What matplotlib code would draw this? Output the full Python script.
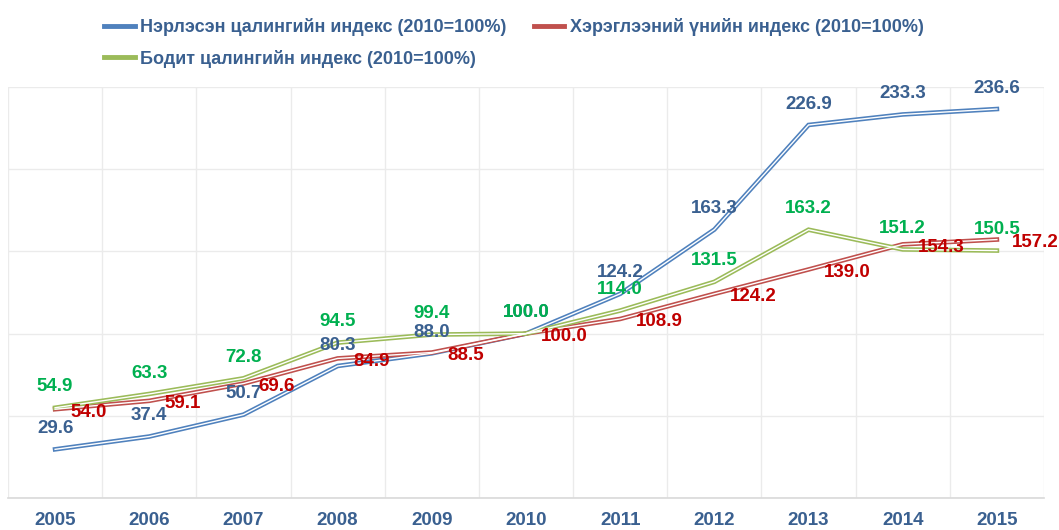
# -*- coding: utf-8 -*-
"""
Цалингийн индексүүд, 2005-2015 (2010=100%)
"""

import numpy as np
import matplotlib.pyplot as plt

plt.rcParams['font.family'] = ['Liberation Sans', 'DejaVu Sans']
plt.rcParams['font.weight'] = 'bold'

# Өгөгдөл
years = ['2005', '2006', '2007', '2008', '2009', '2010',
         '2011', '2012', '2013', '2014', '2015']
nominal = [29.6, 37.4, 50.7, 80.3, 88.0, 100.0, 124.2, 163.3, 226.9, 233.3, 236.6]
cpi = [54.0, 59.1, 69.6, 84.9, 88.5, 100.0, 108.9, 124.2, 139.0, 154.3, 157.2]
real = [54.9, 63.3, 72.8, 94.5, 99.4, 100.0, 114.0, 131.5, 163.2, 151.2, 150.5]

names = ['Нэрлэсэн цалингийн индекс (2010=100%)',
         'Хэрэглээний үнийн индекс (2010=100%)',
         'Бодит цалингийн индекс (2010=100%)']

c_blue, c_red, c_green = '#4F81BD', '#C0504D', '#9BBB59'
t_blue, t_red, t_green = '#3A6090', '#C00000', '#00B050'

x = np.arange(len(years))

fig = plt.figure(figsize=(10.59, 5.30), dpi=100)
ax = fig.add_axes([8/1059, 1 - 498/530, (1044 - 8)/1059, (498 - 87)/530])

# Хоёр давхар шугам: өнгөт зузаан + цагаан нимгэн
def double_line(vals, col):
    ax.plot(x, vals, color=col, lw=3.3, zorder=3, solid_joinstyle='miter')
    ax.plot(x, vals, color='white', lw=1.0, zorder=4, solid_joinstyle='miter')

double_line(nominal, c_blue)
double_line(cpi, c_red)
double_line(real, c_green)

# Утгын шошго
for i in range(len(x)):
    ax.annotate(f'{nominal[i]:.1f}', (x[i], nominal[i]), xytext=(0, 15),
                textcoords='offset points', ha='center', va='center',
                fontsize=13.5, color=t_blue, zorder=5)
    ax.annotate(f'{real[i]:.1f}', (x[i], real[i]), xytext=(0, 15),
                textcoords='offset points', ha='center', va='center',
                fontsize=13.5, color=t_green, zorder=5)
    ax.annotate(f'{cpi[i]:.1f}', (x[i], cpi[i]), xytext=(11, -2),
                textcoords='offset points', ha='left', va='center',
                fontsize=13.5, color=t_red, zorder=5)

ax.set_xlim(-0.5, len(x) - 0.5)
ax.set_ylim(0, 250)
ax.set_xticks(x)
ax.set_xticklabels(years, fontsize=13.5, color=t_blue)
ax.set_xticks(np.arange(-0.5, len(x), 1), minor=True)
ax.set_yticks(np.arange(0, 251, 50))
ax.set_yticklabels([])
ax.tick_params(axis='both', which='both', length=0)
ax.tick_params(axis='x', pad=10)
ax.grid(True, which='minor', axis='x', color='#EBEBEB', lw=1)
ax.grid(True, which='major', axis='y', color='#EBEBEB', lw=1)
for s in ['top', 'right', 'left']:
    ax.spines[s].set_visible(False)
ax.spines['bottom'].set_color('#D9D9D9')
ax.spines['bottom'].set_linewidth(1.2)

# Тайлбар
h_blue, = ax.plot([], [], color=c_blue, lw=3.5)
h_red, = ax.plot([], [], color=c_red, lw=3.5)
h_green, = ax.plot([], [], color=c_green, lw=3.5)
fig.legend([h_blue, h_green, h_red], [names[0], names[2], names[1]],
           loc='upper left', bbox_to_anchor=(104/1059, 1 - 18/530), ncol=2,
           frameon=False, fontsize=13, labelcolor=t_blue,
           handlelength=1.7, handletextpad=0.3, columnspacing=1.5,
           labelspacing=0.75, borderpad=0, borderaxespad=0)

fig.savefig('out.png', dpi=100, facecolor='white')
